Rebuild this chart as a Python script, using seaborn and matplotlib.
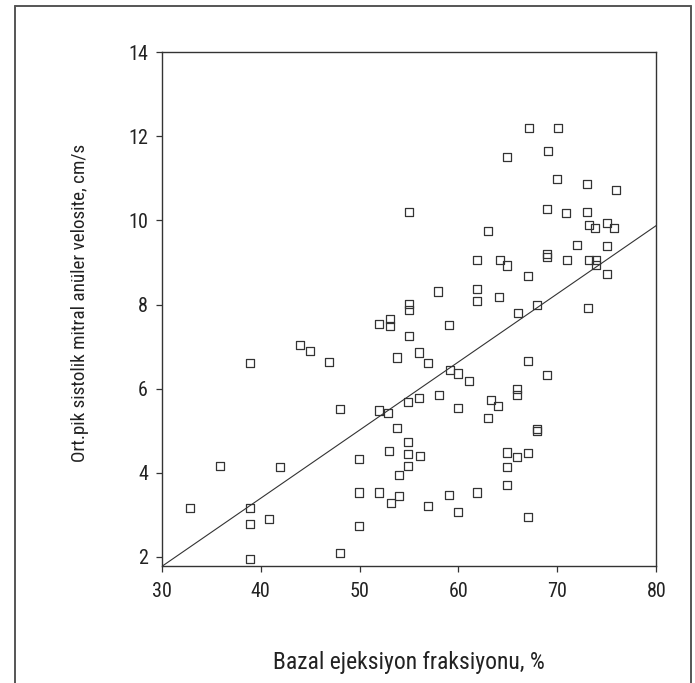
import matplotlib
matplotlib.use("Agg")
import matplotlib.pyplot as plt
from matplotlib import font_manager as fm
from matplotlib.lines import Line2D
import seaborn as sns
import pandas as pd

# ---- data ----
ejection = [67.10, 70.06, 69.02, 64.88, 69.99, 72.99, 75.93, 55.03, 68.98, 70.87,
            72.99, 73.17, 73.83, 75.05, 75.72, 63.02, 71.98, 74.99, 68.98, 68.98,
            61.90, 64.23, 64.94, 70.97, 73.17, 73.93, 73.93, 67.06, 74.99, 57.96,
            61.90, 61.90, 64.07, 55.03, 55.03, 66.02, 67.91, 73.10, 59.04, 55.03,
            38.93, 43.98, 45.02, 46.94, 51.94, 53.05, 53.05, 53.82, 48.01, 51.94,
            52.91, 53.82, 54.93, 54.93, 54.93, 54.93, 53.01, 53.96, 49.98, 41.96,
            35.89, 32.86, 38.93, 38.93, 40.85, 38.93, 49.98, 49.98, 48.02, 51.94,
            53.21, 53.96, 56.01, 56.92, 59.18, 59.95, 61.10, 67.06, 68.98, 56.04,
            58.06, 59.95, 63.29, 64.03, 65.95, 65.95, 62.96, 67.91, 67.91, 56.08,
            64.88, 65.95, 67.03, 64.94, 64.91, 56.89, 59.01, 59.92, 61.90, 67.06]
velocity = [12.21, 12.21, 11.66, 11.50, 10.99, 10.87, 10.73, 10.20, 10.28, 10.18,
            10.20, 9.89, 9.82, 9.95, 9.82, 9.74, 9.41, 9.39, 9.20, 9.14,
            9.06, 9.06, 8.93, 9.06, 9.07, 9.07, 8.94, 8.69, 8.72, 8.31,
            8.38, 8.08, 8.17, 8.02, 7.88, 7.80, 8.00, 7.92, 7.52, 7.25,
            6.61, 7.03, 6.89, 6.64, 7.53, 7.65, 7.49, 6.74, 5.51, 5.48,
            5.42, 5.06, 5.69, 4.73, 4.44, 4.17, 4.51, 3.95, 4.33, 4.13,
            4.17, 3.16, 3.16, 2.78, 2.90, 1.94, 3.53, 2.73, 2.10, 3.53,
            3.29, 3.45, 6.86, 6.61, 6.44, 6.36, 6.19, 6.65, 6.32, 5.78,
            5.84, 5.55, 5.73, 5.59, 6.00, 5.85, 5.31, 5.05, 4.99, 4.39,
            4.48, 4.38, 4.46, 4.13, 3.70, 3.20, 3.48, 3.06, 3.53, 2.94]

fit_x = [30, 80]
fit_y = [1.77, 9.88]

x_ticks = [30, 40, 50, 60, 70, 80]
y_ticks = [2, 4, 6, 8, 10, 12, 14]

x_label = "Bazal ejeksiyon fraksiyonu, %"
y_label = "Ort.pik sistolik mitral anüler velosite, cm/s"

# ---- style ----
sns.set_theme(style="white")
names = {f.name for f in fm.fontManager.ttflist}
family = "DejaVu Sans"
for cand in ["Liberation Sans Narrow", "Roboto Condensed", "Open Sans Condensed"]:
    if cand in names:
        family = cand
        break
plt.rcParams["font.family"] = [family, "DejaVu Sans"]

df = pd.DataFrame({"x": ejection, "y": velocity})
fit = pd.DataFrame({"x": fit_x, "y": fit_y})

fig = plt.figure(figsize=(6.95, 6.83), dpi=100)
ax = fig.add_axes([0.2327, 0.1706, 0.9443 - 0.2327, 0.9234 - 0.1706])

sns.lineplot(data=fit, x="x", y="y", ax=ax, color="#333333", linewidth=0.8)
sns.scatterplot(data=df, x="x", y="y", ax=ax, marker="s", s=34,
                fc="none", ec="#333333", linewidth=0.9, zorder=3)

ax.set_xlim(30, 80)
ax.set_ylim(1.77, 14)
ax.set_xticks(x_ticks)
ax.set_yticks(y_ticks)
ax.tick_params(axis="both", which="both", direction="out", length=4, width=0.9,
               color="#333333", labelsize=14.5, labelcolor="#222222",
               bottom=True, left=True, top=False, right=False)
ax.tick_params(axis="x", pad=7)
ax.tick_params(axis="y", pad=6)
for sp in ax.spines.values():
    sp.set_visible(True)
    sp.set_color("#333333")
    sp.set_linewidth(1.0)

ax.set_xlabel(x_label, fontsize=17, color="#222222", va="center")
ax.set_ylabel(y_label, fontsize=13.8, color="#222222", va="center")
ax.xaxis.set_label_coords(0.5, -0.186)
ax.yaxis.set_label_coords(-0.165, 0.513)

# outer frame (open at bottom)
W, H = 695, 683
def fx(px): return px / W
def fy(py): return 1 - py / H
frame_kw = dict(color="#555555", linewidth=1.4, transform=fig.transFigure)
fig.add_artist(Line2D([fx(15), fx(15)], [fy(6), 0], **frame_kw))
fig.add_artist(Line2D([fx(691), fx(691)], [fy(6), 0], **frame_kw))
fig.add_artist(Line2D([fx(15), fx(691)], [fy(6), fy(6)], **frame_kw))

fig.savefig("out.png", dpi=100)
